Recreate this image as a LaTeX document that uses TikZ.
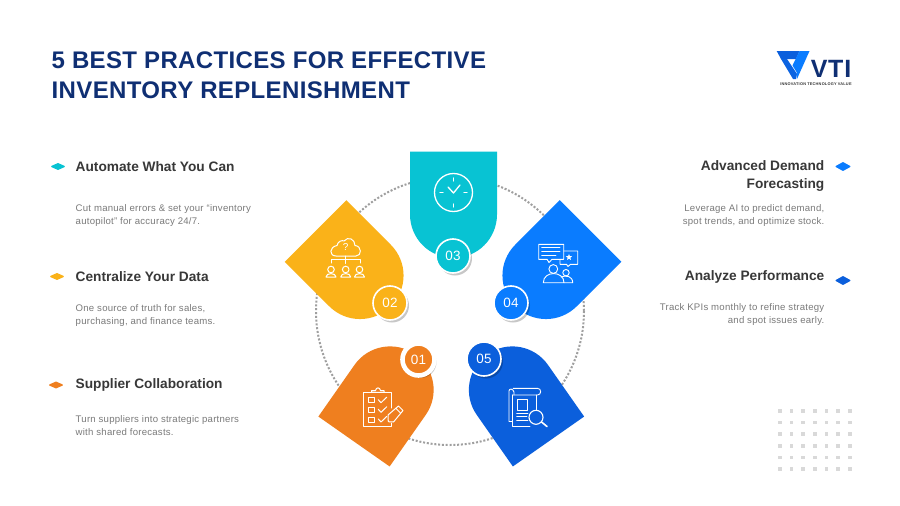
\documentclass[tikz,border=0pt]{standalone}
\usepackage{fontspec}
\setmainfont{Liberation Sans}
\usetikzlibrary{shadows,shapes.geometric}
\definecolor{navy}{HTML}{0F2F73}
\definecolor{teal03}{HTML}{08C3D3}
\definecolor{amber02}{HTML}{FAB219}
\definecolor{blue04}{HTML}{0A7CFF}
\definecolor{orange01}{HTML}{EF7F1F}
\definecolor{blue05}{HTML}{0B5FDC}
\definecolor{headgray}{HTML}{383838}
\definecolor{bodygray}{HTML}{7A7A7A}
\tikzset{
  headtext/.style={inner sep=0pt, text=headgray, font=\fontsize{13.7}{18}\selectfont\bfseries},
  bodytext/.style={inner sep=0pt, text=bodygray, font=\fontsize{9.6}{12.2}\selectfont\addfontfeature{LetterSpace=2.5}},
  bullet/.style={diamond, inner sep=0pt, minimum width=13pt, minimum height=6pt, fill=#1, draw=#1, line width=1.4pt, line join=round},
  badge/.style={circle, draw=white, fill=#1, minimum size=34pt, inner sep=0pt, line width=1.6pt, text=white,
    font=\fontsize{13.5}{16}\selectfont, drop shadow={shadow xshift=2pt, shadow yshift=-2.5pt, opacity=.22, fill=black}},
  icon/.style={draw=white, line width=1pt, line join=round, line cap=round}
}
\begin{document}
\begin{tikzpicture}[x=1pt, y=-1pt]
  \fill[white] (0,0) rectangle (900,506);
  \useasboundingbox (0,0) rectangle (900,506);

  % Title and logo
  \node[inner sep=0pt, anchor=west, align=left, text=navy, font=\fontsize{24}{30}\selectfont\bfseries\addfontfeature{LetterSpace=1.5}] (title) at (51.5,75)
    {5 BEST PRACTICES FOR EFFECTIVE\\INVENTORY REPLENISHMENT};
  \fill[blue05] (776.7,51) -- (799.5,51) -- (796,59) -- (785.5,59) -- (781,59) -- cycle;
  \fill[blue05!85!blue04] (781,59) -- (787,59) -- (797,74) -- (796,79) -- (793,79) -- cycle;
  \fill[blue04] (799.5,51) -- (809.5,51) -- (797,79) -- (796.5,72) -- (792.5,65.5) -- cycle;
  \node[inner sep=0pt, text=navy, font=\fontsize{25}{25}\selectfont\bfseries\addfontfeature{LetterSpace=3}] (vti) at (831,69) {VTI};
  \node[inner sep=0pt, text=headgray, font=\fontsize{3.9}{4}\selectfont\bfseries\addfontfeature{LetterSpace=5}] (tagline) at (816,84) {INNOVATION TECHNOLOGY VALUE};

  % Dotted ring
  \draw[gray!75, line width=2pt, dash pattern=on 2pt off 1.8pt] (450,311) circle (134);

  % Petals
  \foreach \px/\py/\prot/\pcol in {453.5/151.5/0/teal03, 315.5/231/45/amber02, 590.5/231/-45/blue04, 354/441.5/145/orange01, 548.5/441.5/-145/blue05}{
    \begin{scope}[shift={(\px,\py)}, rotate=\prot]
      \fill[\pcol] (-43.5,0) -- (43.5,0) -- (43.5,63) arc[start angle=0, end angle=180, radius=43.5] -- cycle;
    \end{scope}
  }

  % Badges
  \node[badge=teal03] (b3) at (453,256) {03};
  \node[badge=amber02] (b2) at (390,303) {02};
  \node[badge=blue04] (b4) at (511,303) {04};
  \node[badge=orange01, line width=4.6pt, minimum size=32pt] (b1) at (418.5,359.5) {01};
  \node[badge=blue05] (b5) at (484,359) {05};

  % Clock icon
  \draw[icon, line width=1.3pt] (453.5,192.5) circle (19);
  \draw[icon, line width=1.3pt] (448,187) -- (453.5,193) -- (460,185);
  \draw[icon, line width=1.3pt] (453.5,178) -- (453.5,181) (453.5,204) -- (453.5,207) (440,192.5) -- (443,192.5) (464,192.5) -- (467,192.5);

  % Cloud icon
  \draw[icon] (336,256) .. controls (329,256) and (329,247) .. (337,245.5) .. controls (338,241) and (342,240) .. (344,241)
    .. controls (348,236) and (355,239) .. (355,245.5) .. controls (362,246) and (362,256) .. (356,256) -- cycle;
  \node[inner sep=0pt, text=white, font=\fontsize{10}{10}\selectfont] (qmark) at (345.7,247.5) {?};
  \draw[icon] (345.7,256) -- (345.7,263.5) (331,263) -- (331,259) -- (360,259) -- (360,263);
  \foreach \hx in {331,345.7,359.5}{
    \draw[icon] (\hx,269.5) circle (3.3);
    \draw[icon] (\hx-5,277) .. controls (\hx-5,272.5) and (\hx+5,272.5) .. (\hx+5,277) -- cycle;
  }

  % Chat icon
  \draw[icon, line width=.9pt] (538.7,244.3) -- (563.7,244.3) -- (563.7,259.3) -- (552,259.3) -- (549,262.5) -- (547,259.3) -- (538.7,259.3) -- cycle;
  \draw[icon, line width=.9pt] (541.7,247.3) -- (560,247.3) (541.7,251.3) -- (560,251.3) (541.7,255.3) -- (556,255.3);
  \draw[icon, line width=.9pt] (563.7,251) -- (577.7,251) -- (577.7,264.3) -- (570.5,264.3) -- (568,266.5) -- (566.5,264.3) -- (560,264.3) -- (560,259.3);
  \node[star, star points=5, star point ratio=2.2, fill=white, inner sep=0pt, minimum size=6.5pt] (chatstar) at (569,257.3) {};
  \draw[icon, line width=.9pt] (553.3,269) circle (4.4);
  \draw[icon, line width=.9pt] (543.3,282.7) .. controls (543.3,270.5) and (564,270.5) .. (564,282.7) -- cycle;
  \draw[icon, line width=.9pt] (566,272.7) circle (3.2);
  \draw[icon, line width=.9pt] (561,277) .. controls (566,275) and (572.7,276) .. (572.7,282.7) -- (564,282.7);

  % Checklist icon
  \draw[icon] (391,408) -- (391,392.3) -- (384,392.3) (371.7,392.3) -- (363.3,392.3) -- (363.3,426.7) -- (391,426.7) -- (391,423);
  \draw[icon] (371.7,392.3) -- (371.7,390.5) -- (375.5,390.5) .. controls (376,387) and (380,387) .. (380.5,390.5) -- (384,390.5) -- (384,392.3) -- cycle;
  \foreach \cy in {397.7,407.3,417}{
    \draw[icon] (368.3,\cy) rectangle (374,\cy+5);
    \draw[icon] (378.3,\cy+2) -- (381,\cy+5) -- (386.7,\cy-.5);
  }
  \draw[icon] (388.3,421.7) -- (388,415) -- (398.5,406) -- (403,410.5) -- (393.5,422) -- cycle;
  \draw[icon] (396,408.5) -- (400.5,413);

  % Report icon
  \draw[icon, line width=.9pt] (512.3,395) -- (537.5,395) .. controls (541.7,395) and (541.7,388.3) .. (537.5,388.3) -- (513,388.3);
  \draw[icon, line width=.9pt] (512.3,395) -- (512.3,426.7) -- (530,426.7) (536.7,395) -- (536.7,410);
  \draw[icon, line width=.9pt] (512.3,421.5) -- (509,421.5) -- (509,391) .. controls (509,388.3) and (513,388.3) .. (514,392) -- (514,395);
  \draw[icon, line width=.9pt] (517.3,399) rectangle (527.7,410);
  \draw[icon, line width=.9pt] (516.7,413.3) -- (528,413.3) (516.7,416.7) -- (527,416.7) (516.7,420) -- (528,420);
  \draw[icon, line width=1.1pt] (536,417.3) circle (7);
  \draw[icon, line width=1.6pt] (541.5,422) -- (547,426.5);

  % Left column
  \node[bullet=teal03] (d1) at (58,166.5) {};
  \node[headtext, anchor=west] (h1) at (75.5,166.5) {Automate What You Can};
  \node[bodytext, anchor=west, align=left] (t1) at (75.5,215.5) {Cut manual errors \& set your “inventory\\autopilot” for accuracy 24/7.};
  \node[bullet=amber02] (d2) at (57,276.5) {};
  \node[headtext, anchor=west] (h2) at (75.5,276.5) {Centralize Your Data};
  \node[bodytext, anchor=west, align=left] (t2) at (75.5,315.5) {One source of truth for sales,\\purchasing, and finance teams.};
  \node[bullet=orange01] (d3) at (56,385) {};
  \node[headtext, anchor=west] (h3) at (75.5,384.5) {Supplier Collaboration};
  \node[bodytext, anchor=west, align=left] (t3) at (75.5,425.5) {Turn suppliers into strategic partners\\with shared forecasts.};

  % Right column
  \node[bullet=blue04, minimum width=14pt, minimum height=8pt] (d4) at (843,166.5) {};
  \node[headtext, anchor=east, align=right] (h4) at (824.5,175.5) {Advanced Demand\\Forecasting};
  \node[bodytext, anchor=east, align=right] (t4) at (824.5,215.5) {Leverage AI to predict demand,\\spot trends, and optimize stock.};
  \node[bullet=blue05, minimum width=14pt, minimum height=8pt] (d5) at (843,280.5) {};
  \node[headtext, anchor=east] (h5) at (824.5,276.5) {Analyze Performance};
  \node[bodytext, anchor=east, align=right] (t5) at (824.5,314.5) {Track KPIs monthly to refine strategy\\and spot issues early.};

  % Dot grid
  \foreach \gx in {779.7,791.3,803,814.7,826.3,838,849.7}
    \foreach \gy in {410.7,422.3,434,445.7,457.3,469}
      \fill[black!15] (\gx-1.8,\gy-1.8) rectangle (\gx+1.8,\gy+1.8);
\end{tikzpicture}
\end{document}
